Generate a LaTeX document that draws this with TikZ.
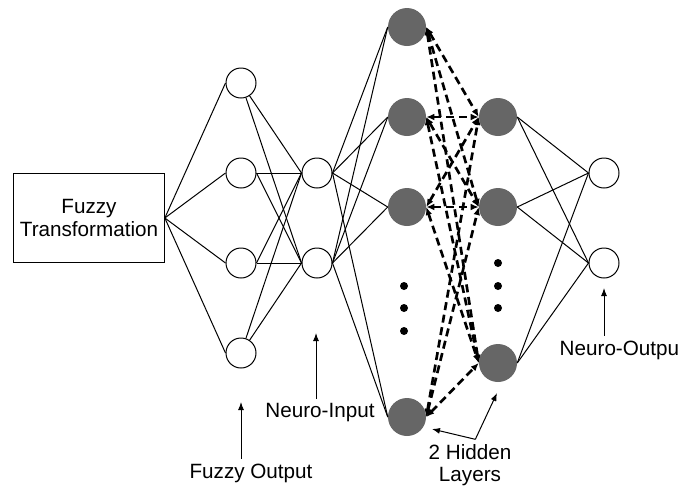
\documentclass[tikz,border=0pt]{standalone}
\usepackage{fontspec}
\setmainfont{Liberation Sans}
\usetikzlibrary{arrows.meta}
\definecolor{hiddengray}{RGB}{102,102,102}
\begin{document}
\begin{tikzpicture}[x=0.75pt,y=-0.75pt,every node/.style={font=\fontsize{15.5}{17}\selectfont}]
			\useasboundingbox (0,0) rectangle (682,490);
			\node[draw=black, line width=0.75pt, minimum width=113pt, minimum height=67pt, align=center] (t) at (89,218) {Fuzzy\\Transformation};
			\begin{scope}[every node/.style={circle, draw=black, line width=0.75pt, fill=white, inner sep=0pt, minimum size=22.5pt}]
				\node (f1) at (241,83) {};
				\node (f2) at (241,173) {};
				\node (f3) at (241,263) {};
				\node (f4) at (241,353) {};
				\node (n1) at (317,173) {};
				\node (n2) at (317,263) {};
				\node (o1) at (604,173) {};
				\node (o2) at (604,263) {};
			\end{scope}
			\begin{scope}[every node/.style={circle, fill=hiddengray, inner sep=0pt, minimum size=28.5pt}]
				\node (h1) at (407,27) {};
				\node (h2) at (407,117) {};
				\node (h3) at (407,207) {};
				\node (h4) at (407,417) {};
				\node (k1) at (498,117) {};
				\node (k2) at (498,207) {};
				\node (k3) at (498,363) {};
			\end{scope}
			\begin{scope}[every node/.style={circle, fill=black, inner sep=0pt, minimum size=6pt}]
				\node (d1) at (404,286) {};
				\node (d2) at (404,308) {};
				\node (d3) at (404,331) {};
				\node (e1) at (498,263) {};
				\node (e2) at (498,286) {};
				\node (e3) at (498,308) {};
			\end{scope}
			\begin{scope}[every edge/.style={draw=black, line width=0.75pt}]
				\path (t.east) edge (f1.west);
				\path (t.east) edge (f2.west);
				\path (t.east) edge (f3.west);
				\path (t.east) edge (f4.west);
				\path (f1) edge (n1.west);
				\path (f1) edge (n2.west);
				\path (f2.east) edge (n1.west);
				\path (f2.east) edge (n2.west);
				\path (f3.east) edge (n1.west);
				\path (f3.east) edge (n2.west);
				\path (f4) edge (n1.west);
				\path (f4) edge (n2.west);
				\path (n1.east) edge (h1.west);
				\path (n1.east) edge (h2.west);
				\path (n1.east) edge (h3.west);
				\path (n1.east) edge (h4.west);
				\path (n2.east) edge (h1.west);
				\path (n2.east) edge (h2.west);
				\path (n2.east) edge (h3.west);
				\path (n2.east) edge (h4.west);
				\path (k1.east) edge (o1.west);
				\path (k1.east) edge (o2.west);
				\path (k2.east) edge (o1.west);
				\path (k2.east) edge (o2.west);
				\path (k3.east) edge (o1.west);
				\path (k3.east) edge (o2.west);
			\end{scope}
			\begin{scope}[every edge/.style={draw=black, line width=2pt, dash pattern=on 6pt off 3.5pt, <->, >={Latex[length=6pt,width=5pt]}}]
				\path (h1.east) edge (k1.west);
				\path (h1.east) edge (k2.west);
				\path (h1.east) edge (k3.west);
				\path (h2.east) edge (k1.west);
				\path (h2.east) edge (k2.west);
				\path (h2.east) edge (k3.west);
				\path (h3.east) edge (k1.west);
				\path (h3.east) edge (k2.west);
				\path (h3.east) edge (k3.west);
				\path (h4.east) edge (k1.west);
				\path (h4.east) edge (k2.west);
				\path (h4.east) edge (k3.west);
			\end{scope}
			\node (fo) at (251,473) {Fuzzy Output};
			\node (ni) at (320,413) {Neuro-Input};
			\node[align=center] (hl) at (470,465) {2 Hidden\\Layers};
			\node[anchor=west] (no) at (555,350) {Neuro-Outpu};
			\coordinate (fotip) at (241,402);
			\coordinate (nitip) at (316,333);
			\coordinate (h4tip) at (432,429);
			\coordinate (k3tip) at (497,393);
			\coordinate (notip) at (604,288);
			\begin{scope}[every edge/.style={draw=black, line width=0.75pt, ->, >={Latex[length=6pt,width=4.5pt]}}]
				\path (fo.north -| fotip) edge (fotip);
				\path (ni.north -| nitip) edge (nitip);
				\path ([xshift=4pt]hl.north) edge (h4tip);
				\path ([xshift=4pt]hl.north) edge (k3tip);
				\path (no.north -| notip) edge (notip);
			\end{scope}
		\end{tikzpicture}
\end{document}
